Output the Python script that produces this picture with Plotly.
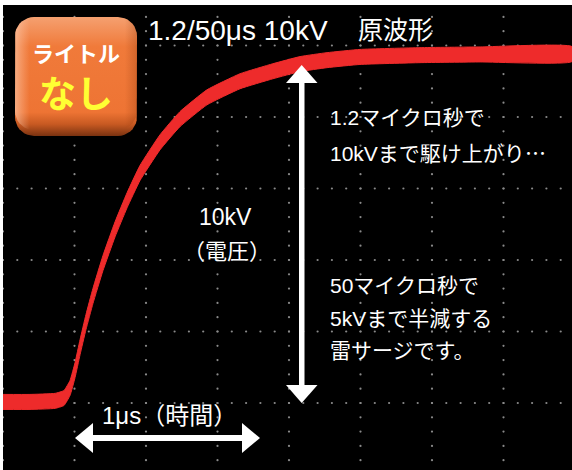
import plotly.graph_objects as go
import numpy as np

# ---------------- data ----------------
time_us = [0.000, 0.151, 0.291, 0.341, 0.375, 0.403, 0.431, 0.464, 0.503, 0.559,
           0.627, 0.694, 0.766, 0.878, 0.990, 1.141, 1.326, 1.510, 1.662, 1.813,
           1.997, 2.333, 2.669, 3.183]
volt_upper = [0.24, 0.24, 0.27, 0.35, 0.63, 1.13, 1.77, 2.47, 3.20, 4.12,
              5.07, 5.88, 6.64, 7.50, 8.15, 8.76, 9.21, 9.49, 9.69, 9.80,
              9.89, 9.94, 9.96, 9.97]
volt_lower = [-0.18, -0.18, -0.15, -0.07, 0.21, 0.71, 1.35, 2.05, 2.78, 3.70,
              4.65, 5.46, 6.22, 7.08, 7.73, 8.34, 8.79, 9.07, 9.27, 9.38,
              9.47, 9.52, 9.54, 9.55]

TIME_DIV = 0.4   # us per division
VOLT_DIV = 2.0   # kV per division
SUBDIV = 5

title_left = "1.2/50μs 10kV"
title_right = "原波形"
note_rise = ["1.2マイクロ秒で", "10kVまで駆け上がり…"]
note_decay = ["50マイクロ秒で", "5kVまで半減する", "雷サージです。"]
volt_label = ["10kV", "（電圧）"]
time_label = "1μs（時間）"
badge_top = "ライトル"
badge_bottom = "なし"

# ---------------- geometry ----------------
W, H = 572, 470
ML, MT = 3, 5
DIV_PX = 71.5
X0_PX, Y0_PX = 3, 403
XMAX = (W - X0_PX) / DIV_PX * TIME_DIV
YMIN = (Y0_PX - H) / DIV_PX * VOLT_DIV
YMAX = (Y0_PX - MT) / DIV_PX * VOLT_DIV


def X(px):
    return (px - X0_PX) / DIV_PX * TIME_DIV


def Y(py):
    return (Y0_PX - py) / DIV_PX * VOLT_DIV


FONT = "Liberation Sans, Noto Sans CJK JP, sans-serif"
FONT_JP = "Noto Sans CJK JP, sans-serif"
RED = "#ee2b2b"

fig = go.Figure()

# grid dots
gx, gy = [], []
vlines = np.arange(0, XMAX + 1e-9, TIME_DIV)
hlines = np.arange(0, YMAX + 1e-9, VOLT_DIV)
vstep = VOLT_DIV / SUBDIV
tstep = TIME_DIV / SUBDIV
vdots = np.arange(np.ceil(YMIN / vstep) * vstep, YMAX, vstep)
tdots = np.arange(0, XMAX, tstep)
for t in vlines:
    for v in vdots:
        gx.append(t); gy.append(v)
for v in hlines:
    for t in tdots:
        gx.append(t); gy.append(v)
fig.add_trace(go.Scatter(x=gx, y=gy, mode="markers",
                         marker=dict(size=2.2, color="#8a8a8a"),
                         hoverinfo="skip", showlegend=False))

# waveform band
fig.add_trace(go.Scatter(x=time_us + time_us[::-1],
                         y=volt_upper + volt_lower[::-1],
                         mode="lines", fill="toself", fillcolor=RED,
                         line=dict(color=RED, width=1, shape="spline", smoothing=0.4),
                         hoverinfo="skip", showlegend=False))

# badge (rounded rectangle)
def rrect(x1, y1, x2, y2, r, n=10):
    pts = []
    corners = [(x2 - r, y1 + r, -90, 0), (x2 - r, y2 - r, 0, 90),
               (x1 + r, y2 - r, 90, 180), (x1 + r, y1 + r, 180, 270)]
    for cx, cy, a0, a1 in corners:
        for a in np.linspace(np.radians(a0), np.radians(a1), n):
            pts.append((X(cx + r * np.cos(a)), Y(cy + r * np.sin(a))))
    pts.append(pts[0])
    return [p[0] for p in pts], [p[1] for p in pts]

bx, by = rrect(15, 17, 137, 136, 19)
fig.add_trace(go.Scatter(x=bx, y=by, mode="lines", fill="toself",
                         line=dict(width=0, color="rgba(0,0,0,0)"),
                         fillgradient=dict(type="vertical",
                                           colorscale=[[0, "#7a3210"], [0.1, "#c85a22"],
                                                       [0.2, "#ee7434"], [0.75, "#f07a3a"],
                                                       [1, "#f5a070"]]),
                         hoverinfo="skip", showlegend=False))
hx, hy = rrect(15, 17, 137, 130, 19)
fig.add_trace(go.Scatter(x=hx, y=hy, mode="lines", fill="toself",
                         line=dict(width=0, color="rgba(0,0,0,0)"),
                         fillgradient=dict(type="horizontal",
                                           colorscale=[[0, "rgba(255,215,190,0.55)"],
                                                       [0.12, "rgba(255,200,170,0.0)"],
                                                       [0.9, "rgba(120,40,0,0.0)"],
                                                       [1, "rgba(120,40,0,0.25)"]]),
                         hoverinfo="skip", showlegend=False))

# arrows
shapes = []
def poly(pts):
    return "M " + " L ".join(f"{X(a)},{Y(b)}" for a, b in pts) + " Z"

WHITE = "white"
# horizontal arrow
shapes.append(dict(type="path", path=poly([(90, 435), (245, 435), (245, 441), (90, 441)]),
                   fillcolor=WHITE, line=dict(width=0)))
shapes.append(dict(type="path", path=poly([(75, 438), (93, 423), (93, 453)]),
                   fillcolor=WHITE, line=dict(width=0)))
shapes.append(dict(type="path", path=poly([(260, 438), (242, 423), (242, 453)]),
                   fillcolor=WHITE, line=dict(width=0)))
# vertical arrow
shapes.append(dict(type="path", path=poly([(299, 80), (304.5, 80), (304.5, 388), (299, 388)]),
                   fillcolor=WHITE, line=dict(width=0)))
shapes.append(dict(type="path", path=poly([(301.7, 65), (286, 83), (317.5, 83)]),
                   fillcolor=WHITE, line=dict(width=0)))
shapes.append(dict(type="path", path=poly([(301.7, 403), (286, 385), (317.5, 385)]),
                   fillcolor=WHITE, line=dict(width=0)))

# texts
ann = []
def txt(s, px, py, size=20, color="white", xanchor="left", bold=False, family=FONT):
    s = s.replace("…", f"<span style='font-family:{FONT_JP}'>…</span>")
    ann.append(dict(x=X(px), y=Y(py), xref="x", yref="y", text=(f"<b>{s}</b>" if bold else s),
                    showarrow=False, xanchor=xanchor, yanchor="middle",
                    font=dict(family=family, size=size, color=color)))

txt(title_left, 146, 30, 28)
txt(title_right, 356, 30, 25)
for s, py in zip(note_rise, [117, 152]):
    txt(s, 328, py, 21)
for s, py in zip(note_decay, [285, 318, 350]):
    txt(s, 328, py, 21)
txt(volt_label[0], 225, 217, 23, xanchor="center")
txt(volt_label[1], 227, 251, 22, xanchor="center")
txt(time_label, 100, 415, 24)
txt(badge_top, 76, 52, 22, xanchor="center", bold=True, family=FONT_JP)
txt(badge_bottom, 76, 92, 37, color="#ffff33", xanchor="center", bold=True, family=FONT_JP)

fig.update_layout(
    width=W, height=H,
    margin=dict(l=ML, r=0, t=MT, b=0, pad=0),
    paper_bgcolor="white", plot_bgcolor="black",
    xaxis=dict(range=[0, XMAX], visible=False, fixedrange=True),
    yaxis=dict(range=[YMIN, YMAX], visible=False, fixedrange=True),
    shapes=shapes, annotations=ann, showlegend=False,
)
fig.write_html("out.html", config={"displayModeBar": False},
               post_script="document.body.style.margin='0px';document.body.style.overflow='hidden';")
